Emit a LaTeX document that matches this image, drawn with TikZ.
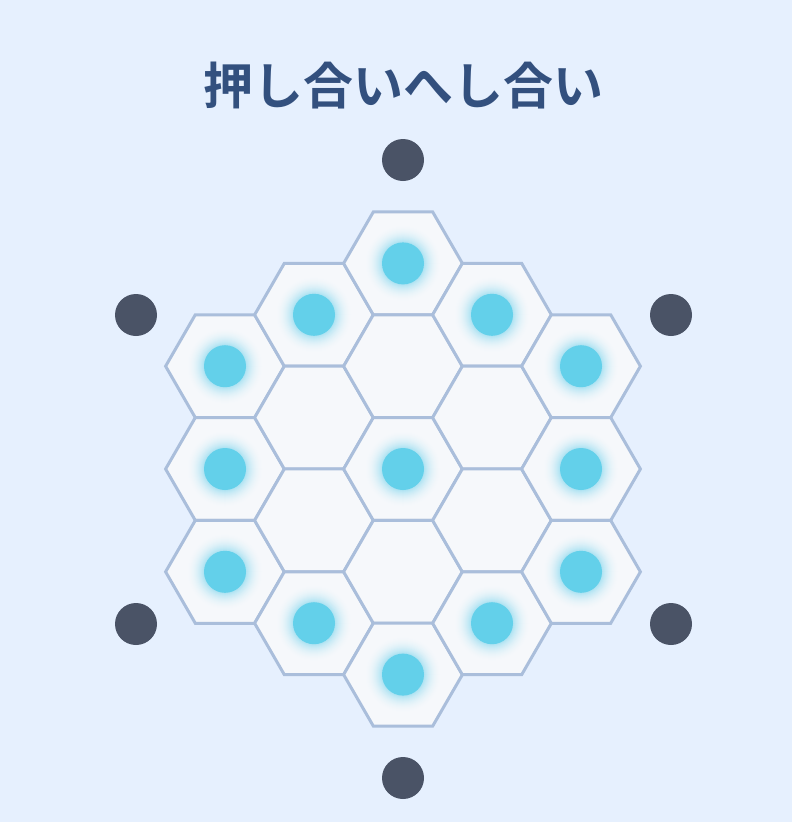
\documentclass[tikz,border=0pt]{standalone}
\usepackage{fontspec}
\newfontfamily\jp{Noto Sans CJK JP Bold}
\usetikzlibrary{shapes.geometric}
\definecolor{bg}{HTML}{E6F0FE}
\definecolor{hexfill}{HTML}{F6F8FB}
\definecolor{hexline}{HTML}{AABEDB}
\definecolor{cyandot}{HTML}{63D0EA}
\definecolor{glowc}{HTML}{8FDAEF}
\definecolor{darkdot}{HTML}{4A5366}
\definecolor{titlec}{HTML}{33507E}
\tikzset{
  hexcell/.style={regular polygon, regular polygon sides=6, minimum size=118.8pt, inner sep=0pt,
    fill=hexfill, draw=hexline, line width=3pt},
  piece/.style={circle, fill=cyandot, minimum size=42pt, inner sep=0pt},
  anchorpt/.style={circle, fill=darkdot, minimum size=42pt, inner sep=0pt}
}
\begin{document}
\begin{tikzpicture}[x=1pt,y=-1pt]
\fill[bg] (0,0) rectangle (792,822);
\useasboundingbox (0,0) rectangle (792,822);
\node[text=titlec, font=\jp\fontsize{50}{60}\selectfont] (title) at (403,86) {押し合いへし合い};
% hexes: column c, half-row k, filled flag
\foreach \c/\k/\f [count=\i] in {-2/-2/1,-2/0/1,-2/2/1,
  -1/-3/1,-1/-1/0,-1/1/0,-1/3/1,
  0/-4/1,0/-2/0,0/0/1,0/2/0,0/4/1,
  1/-3/1,1/-1/0,1/1/0,1/3/1,
  2/-2/1,2/0/1,2/2/1}{
  \node[hexcell] (h\i) at ({403+89*\c},{469+51.4*\k}) {};
}
\foreach \c/\k/\f [count=\i] in {-2/-2/1,-2/0/1,-2/2/1,
  -1/-3/1,-1/-1/0,-1/1/0,-1/3/1,
  0/-4/1,0/-2/0,0/0/1,0/2/0,0/4/1,
  1/-3/1,1/-1/0,1/1/0,1/3/1,
  2/-2/1,2/0/1,2/2/1}{
  \ifnum\f=1
    \foreach \r in {40,39,...,21}{
      \pgfmathsetmacro\t{75*((40-\r)/19)^2.2}
      \fill[glowc!\t!hexfill] (h\i.center) circle[radius=\r];
    }
    \node[piece] (p\i) at (h\i.center) {};
  \fi
}
\node[anchorpt] (a1) at (403,160) {};
\node[anchorpt] (a2) at (136,315) {};
\node[anchorpt] (a3) at (671,315) {};
\node[anchorpt] (a4) at (136,624) {};
\node[anchorpt] (a5) at (671,624) {};
\node[anchorpt] (a6) at (403,778) {};
\end{tikzpicture}
\end{document}
